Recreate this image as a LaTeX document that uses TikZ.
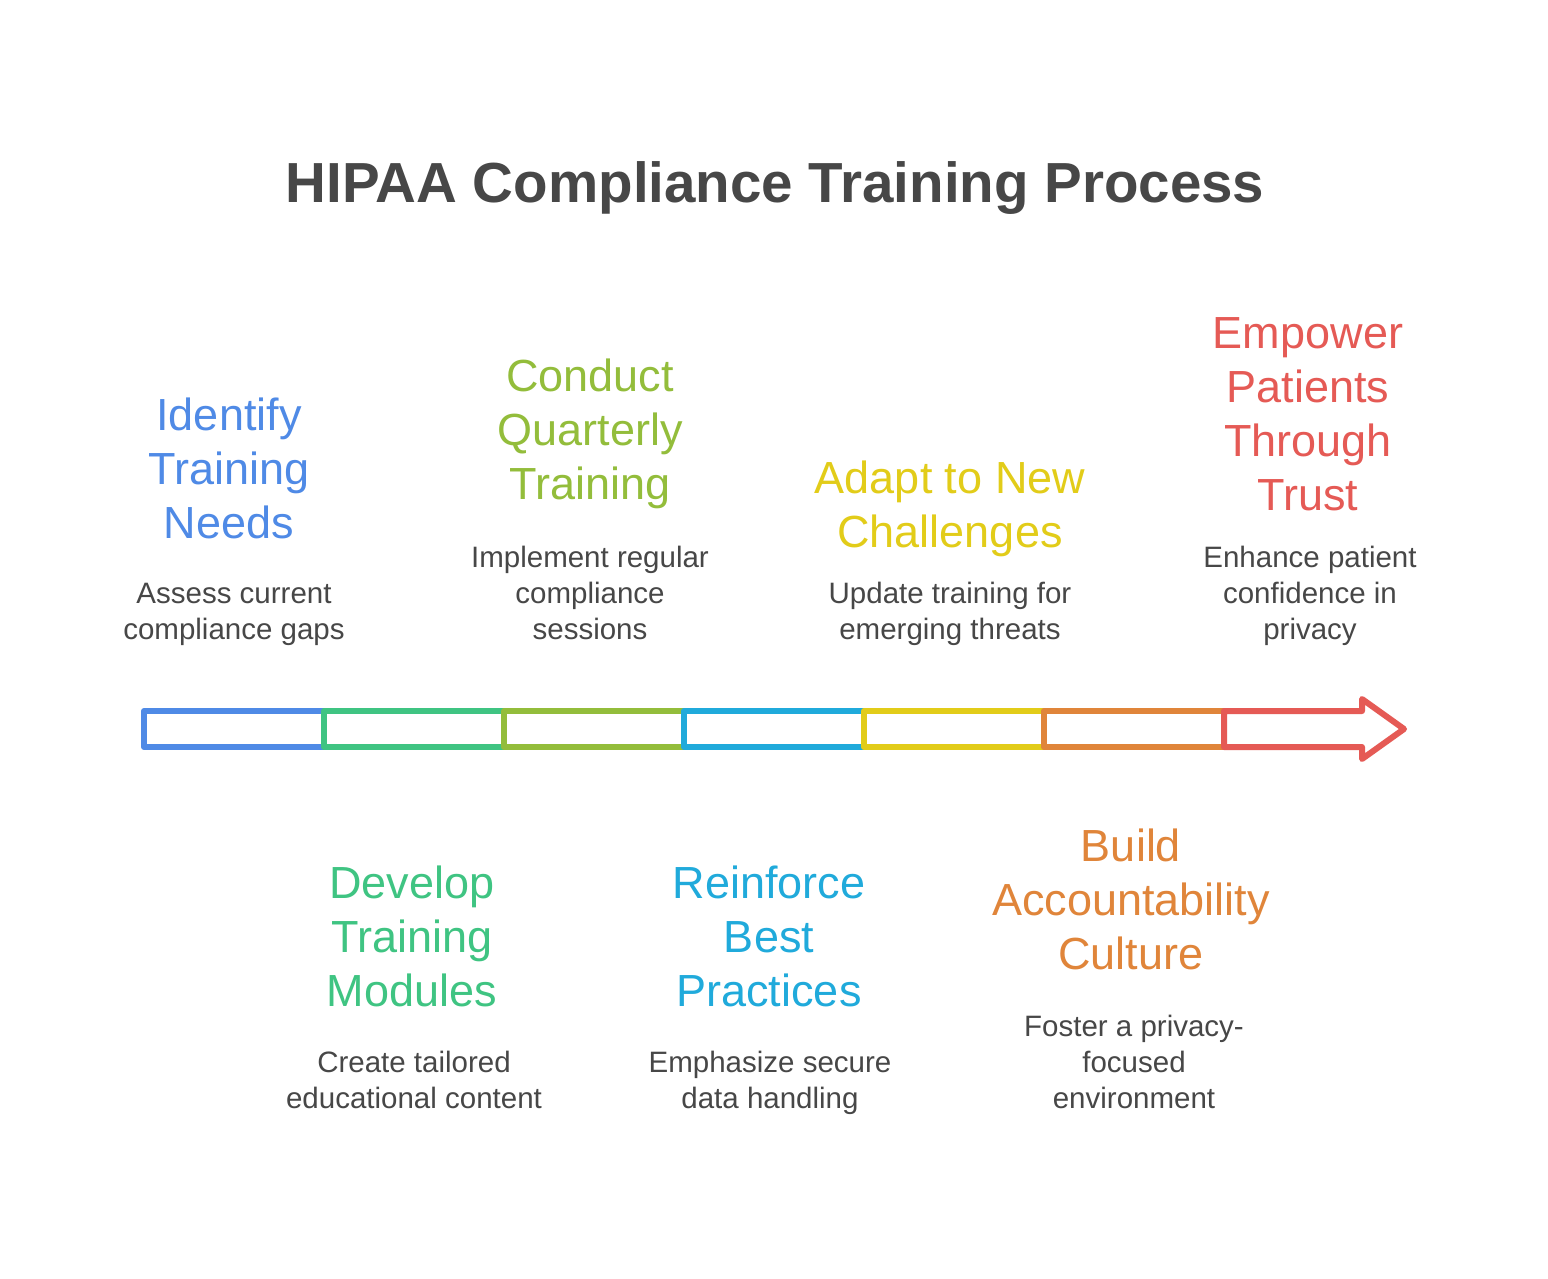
\documentclass[tikz,border=0pt]{standalone}
\usepackage{fontspec}
\setmainfont{Liberation Sans}

\definecolor{cBlue}{HTML}{4F8AE6}
\definecolor{cGreen}{HTML}{3FC482}
\definecolor{cOlive}{HTML}{93BD3B}
\definecolor{cCyan}{HTML}{20AADB}
\definecolor{cYellow}{HTML}{E2CC19}
\definecolor{cOrange}{HTML}{E0853A}
\definecolor{cRed}{HTML}{E55A55}
\definecolor{cText}{HTML}{474747}

\begin{document}
\begin{tikzpicture}[x=1pt, y=-1pt, line width=6pt, line join=round,
  heading/.style={font=\fontsize{45}{54}\selectfont, align=center,
    inner sep=0pt, anchor=base},
  blurb/.style={font=\fontsize{29.5}{36}\selectfont, text=cText,
    align=center, inner sep=0pt, anchor=base}]

% Fond
\fill[white] (0,0) rectangle (1548,1278);
\useasboundingbox (0,0) rectangle (1548,1278);

% Titre
\node[anchor=base, inner sep=0pt, text=cText,
  font=\fontsize{56.5}{68}\selectfont\bfseries] (title) at (775,202)
  {HIPAA Compliance Training Process};

% Barre
\foreach \c [count=\i from 0] in {cBlue,cGreen,cOlive,cCyan,cYellow,cOrange}
  \draw[\c] (144+180*\i,711) rectangle ++(180,36);

% Fleche rouge
\draw[cRed] (1224,711) -- (1362,711) -- (1362,699) -- (1404,729)
  -- (1362,759) -- (1362,747) -- (1224,747) -- cycle;

% Etapes du haut (base = derniere ligne)
\node[heading, text=cBlue] (identify) at (229,538)
  {Identify\\Training\\Needs};
\node[blurb] (identifyTxt) at (234,639)
  {Assess current\\compliance gaps};

\node[heading, text=cOlive] (conduct) at (590,499)
  {Conduct\\Quarterly\\Training};
\node[blurb] (conductTxt) at (590,639)
  {Implement regular\\compliance\\sessions};

\node[heading, text=cYellow] (adapt) at (950,547)
  {Adapt to New\\Challenges};
\node[blurb] (adaptTxt) at (950,639)
  {Update training for\\emerging threats};

\node[heading, text=cRed] (empower) at (1308,510)
  {Empower\\Patients\\Through\\Trust};
\node[blurb] (empowerTxt) at (1310,639)
  {Enhance patient\\confidence in\\privacy};

% Etapes du bas
\node[heading, text=cGreen] (develop) at (412,1006)
  {Develop\\Training\\Modules};
\node[blurb] (developTxt) at (414,1108)
  {Create tailored\\educational content};

\node[heading, text=cCyan] (reinforce) at (769,1006)
  {Reinforce\\Best\\Practices};
\node[blurb] (reinforceTxt) at (770,1108)
  {Emphasize secure\\data handling};

\node[heading, text=cOrange] (build) at (1131,969)
  {Build\\Accountability\\Culture};
\node[blurb] (buildTxt) at (1134,1108)
  {Foster a privacy-\\focused\\environment};

\end{tikzpicture}
\end{document}
